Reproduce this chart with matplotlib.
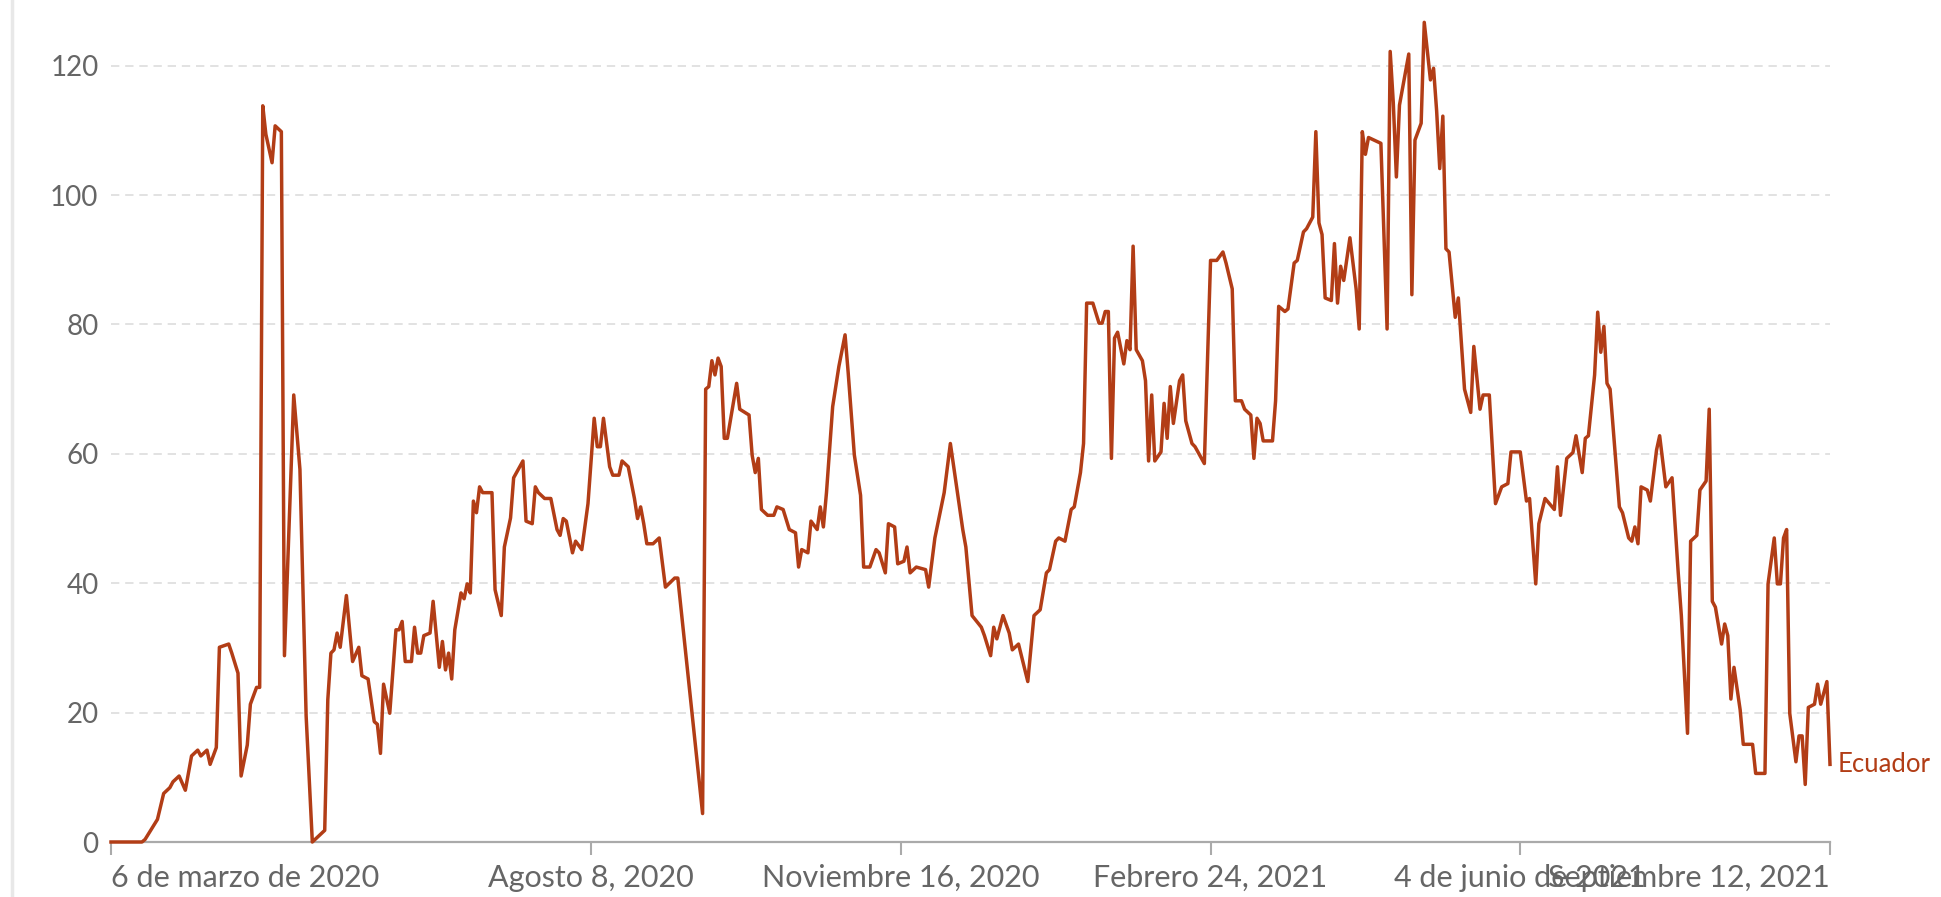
# Muertes diarias por COVID-19 en Ecuador (serie reconstruida)
import numpy as np
import pandas as pd
import matplotlib
matplotlib.use("Agg")
import matplotlib.pyplot as plt
from matplotlib.lines import Line2D

plt.rcParams['font.family'] = ['Lato', 'DejaVu Sans']

# Datos: días desde el 6 de marzo de 2020 y valor de la serie
inicio = pd.Timestamp("2020-03-06")
dias = [
    0, 10, 11, 15, 17, 19, 20, 22, 24, 26, 28, 29, 31, 32, 34, 35, 38, 39, 41, 42,
    44, 45, 47, 48, 49, 50, 52, 53, 55, 56, 59, 61, 63, 65, 69, 70, 71, 72, 73, 74,
    76, 78, 80, 81, 83, 85, 86, 87, 88, 90, 92, 93, 94, 95, 97, 98, 99,
    100, 101, 103, 104, 106, 107, 108, 109, 110, 111, 113, 114, 115, 116, 117, 118, 119, 120,
    123, 124, 126, 127, 129, 130, 133, 134, 136, 137, 138, 140, 142, 144, 145, 146, 147, 149,
    150, 152, 154, 156, 157, 158, 159, 161, 162, 164, 165, 167, 169, 170, 171, 172, 173, 175,
    177, 179, 182, 183, 191, 192, 193, 194, 195, 196, 197, 198, 199, 202, 203, 206, 207, 208,
    209, 210, 212, 214, 215, 217,
    219, 221, 222, 223, 225, 226, 228, 229, 230, 231, 233, 235, 237, 238, 240, 242, 243, 245,
    247, 248, 250, 251, 253, 254, 256, 257, 258, 260, 263, 264, 266, 269, 271, 275, 276, 278,
    281, 282, 284, 285, 286, 288, 290, 291, 293, 296, 298, 300, 302, 303, 305, 306, 308, 310,
    311, 313, 314, 315, 317, 319, 320, 321, 322, 323, 324, 325, 327, 328, 329, 330, 331, 333,
    334, 335, 336, 337, 339, 340, 341, 342, 343,
    345, 346, 347, 349, 350, 353, 355, 357, 359, 360, 362, 363, 365, 366, 368, 369, 370, 371,
    372, 375, 376, 377, 379, 380, 382, 383, 385, 386, 388, 389, 390, 391, 392, 394, 395, 396,
    397, 398, 400, 402, 403, 404, 405, 406, 410, 412, 413, 414, 415, 416, 419, 420, 421, 423,
    424, 426, 427, 428, 429, 430, 431, 432, 434, 435, 437, 439, 440, 442, 443, 445, 447, 449,
    451, 452, 455, 457, 458, 460, 461, 463,
    466, 467, 468, 470, 472, 473, 475, 476, 477, 479, 480, 481, 482, 483, 484, 487, 488, 490,
    491, 492, 493, 494, 496, 497, 499, 500, 502, 504, 506, 507, 509, 510, 512, 513, 515, 516,
    517, 518, 520, 521, 522, 523, 524, 526, 527, 530, 531, 534, 535, 537, 538, 539, 540, 541,
    542, 544, 545, 546, 547, 548, 550, 551, 552, 554, 555,
]
valores = [
    0, 0, 0.4, 3.5, 7.5, 8.4, 9.3, 10.2, 8, 13.3, 14.2, 13.3, 14.2, 12, 14.6, 30.1, 30.6, 29.2, 26.1, 10.2,
    15, 21.3, 23.9, 23.9, 113.8, 109.4, 105, 110.7, 109.8, 28.8, 69.1, 57.6, 19.5, 0, 1.8, 22, 29.2, 29.7, 32.3, 30.1,
    38.1, 27.9, 30.1, 25.7, 25.2, 18.6, 18.2, 13.7, 24.4, 19.9, 32.8, 32.8, 34.1, 27.9, 27.9, 33.2, 29.2,
    29.2, 31.9, 32.3, 37.2, 27, 31, 26.6, 29.2, 25.2, 32.8, 38.5, 37.6, 39.9, 38.5, 52.7, 50.9, 54.9, 54,
    54, 39, 35, 45.6, 50.1, 56.3, 58.9, 49.6, 49.2, 54.9, 54, 53.1, 53.1, 48.3, 47.4, 50, 49.6, 44.7,
    46.5, 45.2, 52.3, 65.5, 61.1, 61.1, 65.5, 58, 56.7, 56.7, 58.9, 58, 53.1, 50, 51.8, 49.2, 46.1, 46.1,
    47, 39.4, 40.8, 40.8, 4.4, 70, 70.4, 74.4, 72.2, 74.8, 73.5, 62.4, 62.4, 70.9, 66.9, 66, 59.8, 57.1,
    59.3, 51.4, 50.5, 50.5, 51.8, 51.4,
    48.3, 47.8, 42.5, 45.2, 44.7, 49.6, 48.3, 51.8, 48.7, 54, 67.3, 73.5, 78.4, 72.6, 59.8, 53.6, 42.5, 42.5,
    45.2, 44.7, 41.6, 49.2, 48.7, 43, 43.4, 45.6, 41.6, 42.5, 42.1, 39.4, 47, 54, 61.6, 48.3, 45.6, 35,
    33.2, 31.9, 28.8, 33.2, 31.4, 35, 32.3, 29.7, 30.6, 24.8, 35, 35.9, 41.6, 42.1, 46.5, 47, 46.5, 51.4,
    51.8, 57.1, 61.6, 83.3, 83.3, 80.2, 80.2, 82, 82, 59.3, 77.9, 78.8, 73.9, 77.5, 76.1, 92.1, 76.1, 74.4,
    71.3, 58.9, 69.1, 58.9, 60.3, 67.8, 62.4, 70.4, 64.7,
    71.3, 72.2, 65.1, 61.6, 61.1, 58.5, 89.9, 89.9, 91.2, 89.5, 85.5, 68.2, 68.2, 66.9, 66, 59.3, 65.5, 64.7,
    62, 62, 68.2, 82.8, 82, 82.4, 89.5, 89.9, 94.3, 94.8, 96.6, 109.8, 95.7, 93.9, 84.1, 83.7, 92.5, 83.3,
    89, 86.8, 93.4, 85.5, 79.3, 109.8, 106.3, 108.9, 108, 79.3, 122.2, 114.3, 102.8, 113.9, 121.8, 84.6, 108.5, 111.1,
    126.7, 117.8, 119.6, 113, 104.1, 112.2, 91.7, 91.2, 81.1, 84.1, 70, 66.4, 76.6, 66.9, 69.1, 69.1, 52.3, 54.9,
    55.4, 60.3, 60.3, 52.7, 53.1, 39.9, 49.2, 53.1,
    51.4, 58, 50.5, 59.3, 60.2, 62.8, 57.1, 62.4, 62.8, 72.2, 81.9, 75.7, 79.7, 70.9, 70, 51.8, 50.9, 47,
    46.5, 48.7, 46.1, 54.9, 54.4, 52.7, 60.6, 62.8, 54.9, 56.3, 41.6, 35, 16.8, 46.5, 47.4, 54.4, 55.8, 66.9,
    37.2, 36.3, 30.6, 33.7, 31.9, 22.1, 27, 20.4, 15.1, 15.1, 10.6, 10.6, 39.9, 47, 39.9, 39.9, 47, 48.3,
    19.9, 12.4, 16.4, 16.4, 8.9, 20.8, 21.3, 24.4, 21.3, 24.8, 12,
]
pais = "Ecuador"

fechas_ticks = ["2020-03-06", "2020-08-08", "2020-11-16", "2021-02-24", "2021-06-04", "2021-09-12"]
etiquetas_ticks = ["6 de marzo de 2020", "Agosto 8, 2020", "Noviembre 16, 2020",
                   "Febrero 24, 2021", "4 de junio de 2021", "Septiembre 12, 2021"]
y_ticks = [0, 20, 40, 60, 80, 100, 120]

fechas = inicio + pd.to_timedelta(dias, unit="D")

color_linea = "#b23d16"
gris = "#666666"

fig = plt.figure(figsize=(19.41, 8.97), dpi=100)
ax = fig.add_axes([111 / 1941, 55 / 897, (1830 - 111) / 1941, 841 / 897])

ax.plot(fechas, valores, color=color_linea, lw=2.5, clip_on=False, zorder=3)

ax.set_xlim(pd.Timestamp(fechas_ticks[0]), pd.Timestamp(fechas_ticks[-1]))
ax.set_ylim(0, 130)

# Eje y y cuadrícula
ax.set_yticks(y_ticks)
ax.set_yticklabels([str(v) for v in y_ticks])
ax.yaxis.grid(True, color="#dddddd", lw=1.2, linestyle=(0, (5, 3.5)))
ax.set_axisbelow(True)
ax.tick_params(axis="y", length=0, pad=9, labelsize=20, labelcolor=gris)

# Eje x
ax.set_xticks([pd.Timestamp(f) for f in fechas_ticks])
ax.set_xticklabels(etiquetas_ticks)
ax.tick_params(axis="x", length=9, width=1.5, color="#aaaaaa", pad=7,
               labelsize=22, labelcolor=gris)
labels = ax.get_xticklabels()
labels[0].set_ha("left")
labels[-1].set_ha("right")

for lado in ["top", "right", "left"]:
    ax.spines[lado].set_visible(False)
ax.spines["bottom"].set_color("#aaaaaa")
ax.spines["bottom"].set_linewidth(1.6)

# Etiqueta de la serie al final
ax.text(fechas[-1] + pd.Timedelta(days=2.5), valores[-1], pais, color=color_linea,
        fontsize=18.5, va="center", ha="left", clip_on=False)

# Borde izquierdo de la página
fig.add_artist(Line2D([12 / 1941, 12 / 1941], [0, 1], transform=fig.transFigure,
                      color="#e8e8e8", lw=2.5))

fig.savefig("out.png", dpi=100)
